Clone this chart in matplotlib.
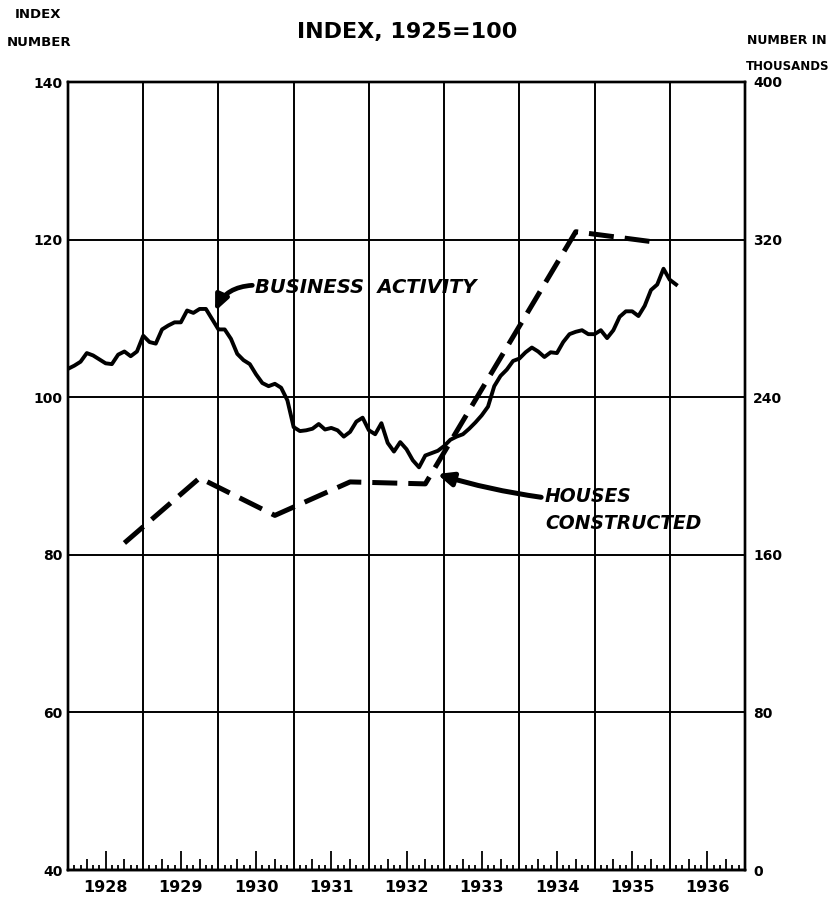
import matplotlib
matplotlib.use("Agg")
import matplotlib.pyplot as plt
import numpy as np
from matplotlib.ticker import FixedLocator, FixedFormatter, NullFormatter

plt.rcParams['font.family'] = ['DejaVu Sans']
plt.rcParams['font.weight'] = 'bold'

# ---------------- data ----------------
business_start_year = 1928          # monthly series, first value = Jan 1928
business_index = [
    103.6, 104.0, 104.5, 105.6, 105.3, 104.8, 104.3, 104.2, 105.4, 105.8, 105.2, 105.8,   # 1928
    107.8, 107.0, 106.8, 108.6, 109.1, 109.5, 109.5, 111.0, 110.7, 111.2, 111.2, 109.9,   # 1929
    108.6, 108.6, 107.4, 105.5, 104.7, 104.2, 102.9, 101.8, 101.4, 101.7, 101.2, 99.6,    # 1930
    96.2, 95.7, 95.8, 96.0, 96.6, 95.9, 96.1, 95.8, 95.0, 95.6, 96.9, 97.4,               # 1931
    95.8, 95.3, 96.7, 94.2, 93.1, 94.3, 93.4, 92.0, 91.1, 92.6, 92.9, 93.2,               # 1932
    93.8, 94.6, 95.0, 95.3, 96.0, 96.8, 97.7, 98.8, 101.4, 102.7, 103.5, 104.6,           # 1933
    104.9, 105.7, 106.3, 105.8, 105.1, 105.7, 105.6, 107.0, 108.0, 108.3, 108.5, 108.0,   # 1934
    108.0, 108.5, 107.5, 108.5, 110.2, 110.9, 110.9, 110.3, 111.6, 113.6, 114.3, 116.3,   # 1935
    114.9, 114.3,                                                                         # 1936
]
house_years = [1928, 1929, 1930, 1931, 1932, 1933, 1934, 1935]   # years ending Sept/Oct
houses_thousands = [166, 199, 180, 197, 196, 260, 324, 319]
year_labels = ['1928', '1929', '1930', '1931', '1932', '1933', '1934', '1935', '1936']
left_ticks = [40, 60, 80, 100, 120, 140]
right_ticks = [0, 80, 160, 240, 320, 400]

# ---------------- figure ----------------
W, H = 831, 908
fig = plt.figure(figsize=(W / 100, H / 100), dpi=100)
fig.patch.set_facecolor('white')
ax = fig.add_axes([68 / W, 38 / H, 677 / W, 788 / H])
ax.set_xlim(1928, 1937)
ax.set_ylim(40, 140)

# grid (year boundaries & index levels)
ax.xaxis.set_major_locator(FixedLocator(np.arange(1928, 1938)))
ax.xaxis.set_major_formatter(NullFormatter())
ax.tick_params(axis='x', which='major', length=0)
ax.xaxis.set_minor_locator(FixedLocator(np.arange(1928, 1937) + 0.5))
ax.xaxis.set_minor_formatter(FixedFormatter(year_labels))
ax.tick_params(axis='x', which='minor', direction='in', length=13.5, width=1.3,
               labelsize=11.5, pad=7, color='black')
ax.set_yticks(left_ticks)
ax.tick_params(axis='y', length=0, labelsize=10, pad=4)
ax.grid(True, which='major', color='black', lw=1.4)
ax.set_axisbelow(True)
for s in ax.spines.values():
    s.set_linewidth(1.7)

# month ticks on the bottom edge
sec = ax.secondary_xaxis('bottom')
months_all = np.arange(1, 12)
quarter = [3, 9]
short = [m for m in months_all if m not in (3, 6, 9)]
yrs = np.arange(1928, 1937)
sec.xaxis.set_major_locator(FixedLocator([y + m / 12 for y in yrs for m in quarter]))
sec.xaxis.set_minor_locator(FixedLocator([y + m / 12 for y in yrs for m in short]))
sec.xaxis.set_major_formatter(NullFormatter())
sec.xaxis.set_minor_formatter(NullFormatter())
sec.tick_params(which='major', direction='in', length=8, width=1.3)
sec.tick_params(which='minor', direction='in', length=3.5, width=1.3)
sec.spines['bottom'].set_linewidth(1.7)

# business activity (left axis)
months = np.arange(len(business_index))
ax.plot(business_start_year + months / 12, business_index, color='black',
        lw=2.8, solid_joinstyle='round', zorder=3)

# houses constructed (right axis)
ax2 = ax.twinx()
ax2.set_ylim(0, 400)
ax2.set_yticks(right_ticks)
ax2.tick_params(axis='y', length=0, labelsize=10, pad=6)
for s in ax2.spines.values():
    s.set_linewidth(1.7)
ax2.plot(np.array(house_years) + 0.75, houses_thousands, color='black', lw=3.6,
         linestyle=(0, (5, 2.2)), dash_capstyle='butt', zorder=3)

# annotations
ax.text(1930.49, 113.9, 'BUSINESS  ACTIVITY', fontsize=14, fontstyle='italic',
        fontweight='bold', ha='left', va='center')
ax.annotate('', xy=(1929.955, 110.9), xytext=(1930.45, 114.2),
            arrowprops=dict(arrowstyle='-|>,head_length=0.45,head_width=0.2',
                            lw=3.4, color='black', mutation_scale=20,
                            connectionstyle='arc3,rad=0.3', shrinkA=0, shrinkB=0))
ax.text(1934.34, 87.4, 'HOUSES', fontsize=13.5, fontstyle='italic',
        fontweight='bold', ha='left', va='center')
ax.text(1934.34, 84.0, 'CONSTRUCTED', fontsize=13.5, fontstyle='italic',
        fontweight='bold', ha='left', va='center')
ax.annotate('', xy=(1932.907, 90.25), xytext=(1934.29, 87.3),
            arrowprops=dict(arrowstyle='-|>,head_length=0.45,head_width=0.2',
                            lw=3.6, color='black', mutation_scale=20,
                            connectionstyle='arc3,rad=-0.04', shrinkA=0, shrinkB=0))

# headers
fig.text(38 / W, 1 - 14 / H, 'INDEX', fontsize=9.5, ha='center', va='center')
fig.text(39 / W, 1 - 43 / H, 'NUMBER', fontsize=9.5, ha='center', va='center')
fig.text(407 / W, 1 - 32 / H, 'INDEX, 1925=100', fontsize=16, ha='center', va='center')
fig.text(787 / W, 1 - 40 / H, 'NUMBER IN', fontsize=9, ha='center', va='center')
fig.text(788 / W, 1 - 66 / H, 'THOUSANDS', fontsize=8.5, ha='center', va='center')

fig.savefig('out.png', dpi=100, facecolor='white')
